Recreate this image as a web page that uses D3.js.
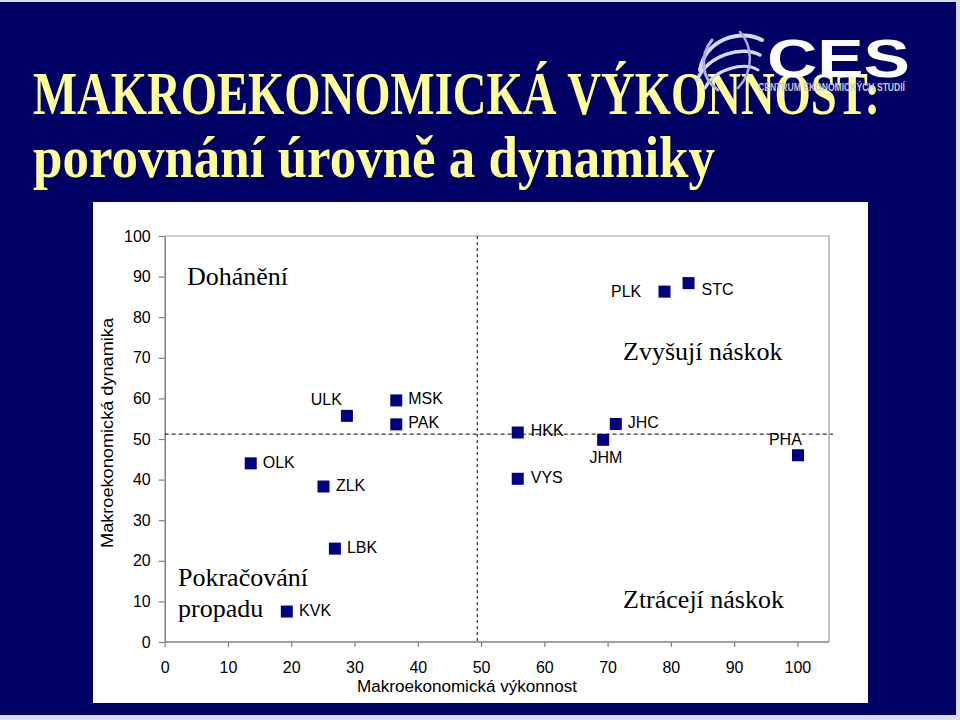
<!DOCTYPE html>
<html>
<head>
<meta charset="utf-8">
<script src="https://cdn.jsdelivr.net/npm/d3@7"></script>
<style>
  html, body { margin: 0; padding: 0; background: #dcdce8; }
  svg { display: block; }
</style>
</head>
<body>
<svg id="chart" width="960" height="720"></svg>
<script>
// ---- data ----
const regions = ["ULK","MSK","PAK","OLK","ZLK","LBK","KVK","PLK","STC","HKK","VYS","JHC","JHM","PHA"];
const performance = [28.8,36.6,36.6,13.6,25.1,26.9,19.3,79.0,82.8,55.8,55.8,71.3,69.3,100.1];
const dynamics    = [55.7,59.5,53.6,44.0,38.3,23.0,7.5,86.3,88.4,51.6,40.2,53.7,49.8,46.0];
const xTicks = [0,10,20,30,40,50,60,70,80,90,100];
const yTicks = [0,10,20,30,40,50,60,70,80,90,100];
const avgPerformance = 49.4;
const avgDynamics = 51.2;
const titleLines = ["MAKROEKONOMICKÁ VÝKONNOST:", "porovnání úrovně a dynamiky"];
const xTitle = "Makroekonomická výkonnost";
const yTitle = "Makroekonomická dynamika";

// label placement (offsets from marker centre)
const labelPlacement = {
  ULK:[-5,-11,"end"], MSK:[12,4,"start"], PAK:[12,4,"start"], OLK:[12,4.5,"start"],
  ZLK:[12.4,4.3,"start"], LBK:[12,4,"start"], KVK:[12.3,4.3,"start"], PLK:[-23.3,5.3,"end"],
  STC:[13,12,"start"], HKK:[13,3.5,"start"], VYS:[13,4.3,"start"], JHC:[12,4,"start"],
  JHM:[2.7,23,"middle"], PHA:[-12.6,-10.3,"middle"]
};

const svg = d3.select("#chart");

// slide background
svg.append("rect").attr("x",0).attr("y",2).attr("width",956).attr("height",713).attr("fill","#000064");

// title
const titleG = svg.append("g").attr("font-family","'Liberation Serif','Times New Roman',serif")
  .attr("font-weight","bold").attr("fill","#FFFF99");
titleG.append("text").attr("x",33).attr("y",114).attr("font-size",61)
  .attr("textLength",847).attr("lengthAdjust","spacingAndGlyphs").text(titleLines[0]);
titleG.append("text").attr("x",33).attr("y",177).attr("font-size",60)
  .attr("textLength",682).attr("lengthAdjust","spacingAndGlyphs").text(titleLines[1]);

// CES logo
const logo = svg.append("g");
const gl = logo.append("g").attr("fill","none").attr("stroke","#d8d8f4").attr("stroke-linecap","round");
gl.append("path").attr("d","M700,70 C705,40 740,28 762,40").attr("stroke-width",4);
gl.append("path").attr("d","M697,80 C708,55 742,45 760,55").attr("stroke-width",3.5);
gl.append("path").attr("d","M705,88 C715,68 745,62 758,70").attr("stroke-width",3);
gl.append("path").attr("d","M712,40 C700,55 700,78 718,90").attr("stroke-width",3).attr("stroke","#b0b0e0");
gl.append("path").attr("d","M740,32 C752,45 755,70 738,88").attr("stroke-width",2.5).attr("stroke","#b0b0e0");
logo.append("text").attr("x",767).attr("y",77).attr("font-family","'Liberation Sans',Arial,sans-serif")
  .attr("font-weight","bold").attr("font-size",54).attr("fill","#ffffff")
  .attr("textLength",143).attr("lengthAdjust","spacingAndGlyphs").text("CES");
logo.append("text").attr("x",758).attr("y",91).attr("font-family","'Liberation Sans',Arial,sans-serif")
  .attr("font-weight","bold").attr("font-size",10).attr("fill","#c8c8d8")
  .attr("textLength",147).attr("lengthAdjust","spacingAndGlyphs").text("CENTRUM EKONOMICKÝCH STUDIÍ");

// chart panel
svg.append("rect").attr("x",93).attr("y",202).attr("width",775).attr("height",501).attr("fill","#ffffff");

const x = d3.scaleLinear().domain([0,105]).range([164.7,829]);
const y = d3.scaleLinear().domain([0,100]).range([642,236]);

// frame (top & right)
svg.append("path").attr("d",`M${x(0)},${y(100)}H${x(105)}V${y(0)}`)
  .attr("fill","none").attr("stroke","#a0a0a0").attr("stroke-width",1.2);

const axFont = "'Liberation Sans',Arial,sans-serif";
const yAxis = svg.append("g").attr("transform",`translate(${x(0)},0)`)
  .call(d3.axisLeft(y).tickValues(yTicks).tickSize(6).tickPadding(8).tickSizeOuter(0));
const xAxis = svg.append("g").attr("transform",`translate(0,${y(0)})`)
  .call(d3.axisBottom(x).tickValues(xTicks).tickSize(5).tickPadding(15).tickSizeOuter(0));
[xAxis,yAxis].forEach(g=>{
  g.select(".domain").attr("stroke","#808080").attr("stroke-width",1.5);
  g.selectAll(".tick line").attr("stroke","#808080").attr("stroke-width",1.2);
  g.selectAll(".tick text").attr("font-family",axFont).attr("font-size",16).attr("fill","#000");
});
// extend x domain line to plot right
xAxis.select(".domain").attr("d",`M${x(0)},0H${x(105)}`);

// dashed average lines
svg.append("line").attr("x1",x(0)).attr("x2",x(105)+4).attr("y1",y(avgDynamics)).attr("y2",y(avgDynamics))
  .attr("stroke","#000").attr("stroke-width",1).attr("stroke-dasharray","4,3");
svg.append("line").attr("x1",x(avgPerformance)).attr("x2",x(avgPerformance)).attr("y1",y(100)).attr("y2",y(0))
  .attr("stroke","#000").attr("stroke-width",1).attr("stroke-dasharray","3,3");

// axis titles
svg.append("text").attr("x",467).attr("y",692).attr("text-anchor","middle")
  .attr("font-family",axFont).attr("font-size",16).attr("textLength",220).attr("lengthAdjust","spacingAndGlyphs")
  .text(xTitle);
svg.append("text").attr("transform","translate(113,433) rotate(-90)").attr("text-anchor","middle")
  .attr("font-family",axFont).attr("font-size",16).attr("textLength",230).attr("lengthAdjust","spacingAndGlyphs")
  .text(yTitle);

// quadrant labels
const qFont = "'Liberation Serif','Times New Roman',serif";
const q = svg.append("g").attr("font-family",qFont).attr("font-size",26).attr("fill","#000");
q.append("text").attr("x",187).attr("y",285).text("Dohánění");
q.append("text").attr("x",623).attr("y",360).text("Zvyšují náskok");
q.append("text").attr("x",623).attr("y",608).text("Ztrácejí náskok");
q.append("text").attr("x",178).attr("y",586).text("Pokračování");
q.append("text").attr("x",178).attr("y",617).text("propadu");

// points
const pts = regions.map((r,i)=>({r, px:performance[i], py:dynamics[i]}));
const s = 12;
svg.append("g").selectAll("rect").data(pts).join("rect")
  .attr("x",d=>x(d.px)-s/2).attr("y",d=>y(d.py)-s/2).attr("width",s).attr("height",s).attr("fill","#000080");
svg.append("g").attr("font-family",axFont).attr("font-size",16).attr("fill","#000")
  .selectAll("text").data(pts).join("text")
  .attr("x",d=>x(d.px)+labelPlacement[d.r][0]).attr("y",d=>y(d.py)+labelPlacement[d.r][1])
  .attr("text-anchor",d=>labelPlacement[d.r][2]).text(d=>d.r);
</script>
</body>
</html>
